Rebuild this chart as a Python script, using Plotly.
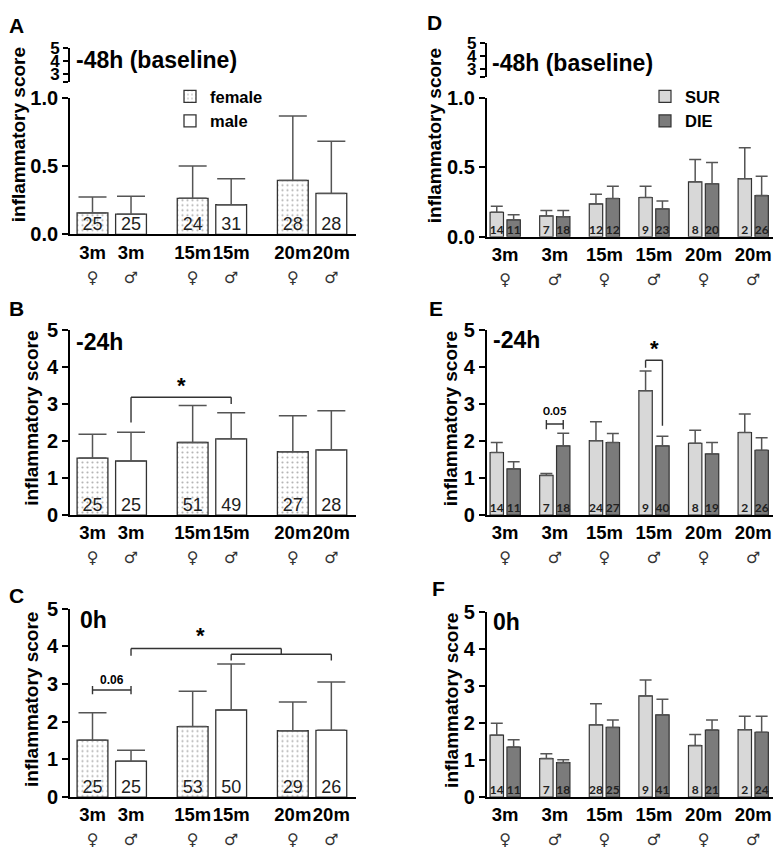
import plotly.graph_objects as go

W, H = 778, 860
FONT = "Liberation Sans, Arial, sans-serif"
NFONT = "Lato, Open Sans, sans-serif"

# ---------------- data ----------------
ages = ["3m", "3m", "15m", "15m", "20m", "20m"]
sexes = ["♀", "♂", "♀", "♂", "♀", "♂"]

# Left panels: female / male per age group (3m, 15m, 20m); mean and upper error (SD)
A_female_mean = [0.157, 0.264, 0.395]
A_female_err = [0.117, 0.236, 0.472]
A_male_mean = [0.148, 0.217, 0.300]
A_male_err = [0.131, 0.190, 0.381]
A_female_n = [25, 24, 28]
A_male_n = [25, 31, 28]

B_female_mean = [1.54, 1.96, 1.71]
B_female_err = [0.64, 1.00, 0.97]
B_male_mean = [1.46, 2.06, 1.76]
B_male_err = [0.78, 0.70, 1.06]
B_female_n = [25, 51, 27]
B_male_n = [25, 49, 28]

C_female_mean = [1.51, 1.87, 1.76]
C_female_err = [0.73, 0.94, 0.76]
C_male_mean = [0.95, 2.31, 1.77]
C_male_err = [0.29, 1.22, 1.28]
C_female_n = [25, 53, 29]
C_male_n = [25, 50, 26]

# Right panels: SUR / DIE per group (3m♀, 3m♂, 15m♀, 15m♂, 20m♀, 20m♂); mean and upper error (SEM)
D_sur_mean = [0.176, 0.150, 0.237, 0.283, 0.396, 0.419]
D_sur_err = [0.044, 0.040, 0.070, 0.082, 0.161, 0.223]
D_die_mean = [0.122, 0.145, 0.276, 0.201, 0.382, 0.297]
D_die_err = [0.037, 0.045, 0.089, 0.057, 0.154, 0.139]
D_sur_n = [14, 7, 12, 9, 8, 2]
D_die_n = [11, 18, 12, 23, 20, 26]

E_sur_mean = [1.69, 1.07, 2.01, 3.36, 1.94, 2.23]
E_sur_err = [0.27, 0.05, 0.51, 0.53, 0.35, 0.50]
E_die_mean = [1.25, 1.87, 1.96, 1.87, 1.65, 1.75]
E_die_err = [0.19, 0.34, 0.24, 0.26, 0.31, 0.34]
E_sur_n = [14, 7, 24, 9, 8, 2]
E_die_n = [11, 18, 27, 40, 19, 26]

F_sur_mean = [1.67, 1.04, 1.95, 2.73, 1.39, 1.82]
F_sur_err = [0.32, 0.13, 0.57, 0.43, 0.30, 0.36]
F_die_mean = [1.35, 0.93, 1.88, 2.22, 1.81, 1.75]
F_die_err = [0.20, 0.08, 0.20, 0.42, 0.27, 0.43]
F_sur_n = [14, 7, 28, 9, 8, 2]
F_die_n = [11, 18, 25, 41, 21, 24]

panel_titles = {"A": "-48h (baseline)", "B": "-24h", "C": "0h",
                "D": "-48h (baseline)", "E": "-24h", "F": "0h"}

# ---------------- layout geometry ----------------
def px(x):
    return x / W

def py(y):
    return 1 - y / H

LEFT_DOM = [px(70), px(356)]
RIGHT_DOM = [px(486.7), px(773.3)]
GROUP_GAP = 2.6
left_f_pos = [g * GROUP_GAP for g in range(3)]
left_m_pos = [g * GROUP_GAP + 1 for g in range(3)]
left_ticks = [p for pair in zip(left_f_pos, left_m_pos) for p in pair]
LEFT_RANGE = [-0.584, 6.84]
OFF = 0.17
right_groups = list(range(6))
right_s_pos = [g - OFF for g in right_groups]
right_d_pos = [g + OFF for g in right_groups]
RIGHT_RANGE = [-0.373, 5.405]

def ticktext_list():
    return ["<b>%s</b><br><span style='font-family:DejaVu Sans;font-size:16px;color:#333'>%s\ufe0e</span>" % (a, s)
            for a, s in zip(ages, sexes)]

fig = go.Figure()

ERR_COL = "#555555"
LINE_COL = "#333333"

def add_left(ax, fm, fe, mm, me, fn, mn, legend=False):
    xa, ya = "x%d" % ax, "y%d" % ax
    fig.add_trace(go.Bar(
        x=left_f_pos, y=fm, width=0.8, xaxis=xa, yaxis=ya,
        name="<b>female</b>", showlegend=legend, legend="legend",
        marker=dict(color="white", line=dict(color=LINE_COL, width=1.3),
                    pattern=dict(shape=".", fgcolor="#666666", bgcolor="white",
                                 size=5, solidity=0.15)),
        error_y=dict(type="data", array=fe, arrayminus=[0] * len(fe), symmetric=False,
                     color=ERR_COL, thickness=1.5, width=14)))
    fig.add_trace(go.Bar(
        x=left_m_pos, y=mm, width=0.8, xaxis=xa, yaxis=ya,
        name="<b>male</b>", showlegend=legend, legend="legend",
        marker=dict(color="white", line=dict(color=LINE_COL, width=1.3)),
        error_y=dict(type="data", array=me, arrayminus=[0] * len(me), symmetric=False,
                     color=ERR_COL, thickness=1.5, width=14)))
    fig.add_trace(go.Scatter(
        x=left_f_pos + left_m_pos, y=[0] * 6, xaxis=xa, yaxis=ya, mode="text",
        text=[str(v) for v in fn + mn], textposition="top center",
        textfont=dict(family=FONT, size=18, color="#222"), showlegend=False,
        hoverinfo="skip"))

def add_right(ax, sm, se, dm, de, sn, dn, legend=False):
    xa, ya = "x%d" % ax, "y%d" % ax
    fig.add_trace(go.Bar(
        x=right_s_pos, y=sm, width=0.27, xaxis=xa, yaxis=ya,
        name="<b>SUR</b>", showlegend=legend, legend="legend2",
        marker=dict(color="#d8d8d8", line=dict(color=LINE_COL, width=1.2)),
        error_y=dict(type="data", array=se, arrayminus=[0] * len(se), symmetric=False,
                     color=ERR_COL, thickness=1.5, width=6)))
    fig.add_trace(go.Bar(
        x=right_d_pos, y=dm, width=0.27, xaxis=xa, yaxis=ya,
        name="<b>DIE</b>", showlegend=legend, legend="legend2",
        marker=dict(color="#7b7b7b", line=dict(color=LINE_COL, width=1.2)),
        error_y=dict(type="data", array=de, arrayminus=[0] * len(de), symmetric=False,
                     color=ERR_COL, thickness=1.5, width=6)))
    fig.add_trace(go.Scatter(
        x=right_s_pos + right_d_pos, y=[0] * 12, xaxis=xa, yaxis=ya, mode="text",
        text=[str(v) for v in sn + dn], textposition="top center",
        textfont=dict(family=NFONT, size=12, color="#222", weight="bold"),
        showlegend=False, hoverinfo="skip"))

add_left(1, A_female_mean, A_female_err, A_male_mean, A_male_err, A_female_n, A_male_n, legend=True)
add_left(2, B_female_mean, B_female_err, B_male_mean, B_male_err, B_female_n, B_male_n)
add_left(3, C_female_mean, C_female_err, C_male_mean, C_male_err, C_female_n, C_male_n)
add_right(4, D_sur_mean, D_sur_err, D_die_mean, D_die_err, D_sur_n, D_die_n, legend=True)
add_right(5, E_sur_mean, E_sur_err, E_die_mean, E_die_err, E_sur_n, E_die_n)
add_right(6, F_sur_mean, F_sur_err, F_die_mean, F_die_err, F_sur_n, F_die_n)

# dummy traces for mini broken-axis sections
for ax in (7, 8):
    fig.add_trace(go.Scatter(x=[None], y=[None], xaxis="x%d" % ax, yaxis="y%d" % ax,
                             showlegend=False, hoverinfo="skip"))

panels = [
    # ax, xdom, ytop, ybot, yrange, left?
    (1, LEFT_DOM, 89, 229.3, [0, 1], True),
    (2, LEFT_DOM, 327.3, 517.3, [0, 5], True),
    (3, LEFT_DOM, 613.3, 806.7, [0, 5], True),
    (4, RIGHT_DOM, 89.3, 231.7, [0, 1], False),
    (5, RIGHT_DOM, 327.3, 517.3, [0, 5], False),
    (6, RIGHT_DOM, 616.7, 806.7, [0, 5], False),
]

lay = {}
for ax, xdom, ytop, ybot, yr, is_left in panels:
    xk = "xaxis" if ax == 1 else "xaxis%d" % ax
    yk = "yaxis" if ax == 1 else "yaxis%d" % ax
    lay[xk] = dict(domain=xdom, anchor="y%d" % ax if ax > 1 else "y",
                   range=LEFT_RANGE if is_left else RIGHT_RANGE,
                   showline=True, linecolor="black", linewidth=1.8, ticks="",
                   showgrid=False, zeroline=False, tickangle=0,
                   tickvals=left_ticks if is_left else right_groups,
                   ticktext=ticktext_list(),
                   tickfont=dict(family=FONT, size=18.5, color="black"))
    if yr[1] == 1:
        tv, tt = [0, 0.5, 1.0], ["0.0", "0.5", "1.0"]
    else:
        tv, tt = [0, 1, 2, 3, 4, 5], ["0", "1", "2", "3", "4", "5"]
    lay[yk] = dict(domain=[py(ybot), py(ytop)], anchor="x%d" % ax if ax > 1 else "x",
                   range=yr, showline=True, linecolor="black", linewidth=1.8,
                   ticks="outside", ticklen=6, tickwidth=1.8, tickcolor="black",
                   showgrid=False, zeroline=False, tickvals=tv, ticktext=tt,
                   tickfont=dict(family=FONT, size=20, color="black", weight="bold"))

# mini axes (broken-axis top section 3-5)
for ax, xdom, ytop, ybot in [(7, LEFT_DOM, 38, 73), (8, RIGHT_DOM, 32.7, 68)]:
    lay["xaxis%d" % ax] = dict(domain=xdom, anchor="y%d" % ax, visible=False, range=[0, 1])
    lay["yaxis%d" % ax] = dict(domain=[py(ybot), py(ytop)], anchor="x%d" % ax,
                               range=[2.4, 5], showline=True, linecolor="black", linewidth=1.6,
                               ticks="outside", ticklen=5, tickwidth=1.6, tickcolor="black",
                               showgrid=False, zeroline=False,
                               tickvals=[2.4, 3, 4, 5], ticktext=["", "3", "4", "5"],
                               tickfont=dict(family=FONT, size=17, color="black", weight="bold"))

annotations = []
# panel letters
for lab, x, y in [("A", 7, 15), ("B", 7, 305), ("C", 7, 600),
                  ("D", 425, 12), ("E", 427, 305), ("F", 430, 593)]:
    annotations.append(dict(text="<b>%s</b>" % lab, x=px(x), y=py(y), xref="paper", yref="paper",
                            xanchor="left", yanchor="middle", showarrow=False,
                            font=dict(family=FONT, size=21, color="black")))
# panel titles
for lab, x, y in [("A", 74, 50), ("B", 74, 340), ("C", 78, 625),
                  ("D", 489.7, 53), ("E", 491, 338), ("F", 491, 627)]:
    annotations.append(dict(text="<b>%s</b>" % panel_titles[lab], x=px(x), y=py(y),
                            xref="paper", yref="paper", xanchor="left", yanchor="middle",
                            showarrow=False, font=dict(family=FONT, size=23, color="black")))
# y axis titles
for x, y in [(18, 127.5), (32, 418.5), (32, 707), (434, 127.5), (450, 419), (452, 708)]:
    annotations.append(dict(text="<b>inflammatory score</b>", x=px(x), y=py(y),
                            xref="paper", yref="paper", xanchor="center", yanchor="middle",
                            textangle=-90, showarrow=False,
                            font=dict(family=FONT, size=19, color="black")))

shapes = []

def seg(ax, x0, y0, x1, y1):
    shapes.append(dict(type="line", xref="x%d" % ax if ax > 1 else "x",
                       yref="y%d" % ax if ax > 1 else "y",
                       x0=x0, y0=y0, x1=x1, y1=y1,
                       line=dict(color="#333333", width=1.4)))

def label(ax, x, y, text, size, yanchor="bottom", family=FONT):
    annotations.append(dict(text="<b>%s</b>" % text, x=x, y=y, xref="x%d" % ax, yref="y%d" % ax,
                            xanchor="center", yanchor=yanchor, showarrow=False,
                            font=dict(family=family, size=size, color="black")))

# Panel B: 3m male vs 15m male
xb0, xb1 = left_m_pos[0], left_m_pos[1]
seg(2, xb0, 2.5, xb0, 3.18)
seg(2, xb0, 3.18, xb1, 3.18)
seg(2, xb1, 3.18, xb1, 3.0)
label(2, (xb0 + xb1) / 2, 3.1, "*", 22)

# Panel C: 0.06 bracket
xc0, xc1 = left_f_pos[0], left_m_pos[0]
seg(3, xc0, 2.84, xc1, 2.84)
seg(3, xc0, 2.73, xc0, 2.95)
seg(3, xc1, 2.73, xc1, 2.95)
label(3, (xc0 + xc1) / 2, 2.86, "0.06", 12)
# Panel C: 3m male vs (15m male, 20m male)
xm = (left_m_pos[1] + left_m_pos[2]) / 2
seg(3, left_m_pos[0], 3.75, left_m_pos[0], 3.94)
seg(3, left_m_pos[0], 3.94, xm, 3.94)
seg(3, xm, 3.94, xm, 3.79)
seg(3, left_m_pos[1], 3.79, left_m_pos[2], 3.79)
seg(3, left_m_pos[1], 3.79, left_m_pos[1], 3.62)
seg(3, left_m_pos[2], 3.79, left_m_pos[2], 3.62)
label(3, (left_m_pos[0] + xm) / 2 - 0.15, 3.9, "*", 22)

# Panel E: 0.05 bracket (3m male SUR vs DIE)
xe0, xe1 = right_s_pos[1], right_d_pos[1]
seg(5, xe0, 2.46, xe1, 2.46)
seg(5, xe0, 2.32, xe0, 2.57)
seg(5, xe1, 2.32, xe1, 2.57)
label(5, (xe0 + xe1) / 2, 2.58, "0.05", 12, family=NFONT)
# Panel E: 15m male SUR vs DIE
xs0, xs1 = right_s_pos[3], right_d_pos[3]
seg(5, xs0, 3.98, xs0, 4.18)
seg(5, xs0, 4.18, xs1, 4.18)
seg(5, xs1, 4.18, xs1, 2.41)
label(5, (xs0 + xs1) / 2, 4.1, "*", 22)

fig.update_layout(
    width=W, height=H,
    margin=dict(l=0, r=0, t=0, b=0),
    paper_bgcolor="white", plot_bgcolor="white",
    barmode="overlay",
    font=dict(family=FONT, color="black"),
    annotations=annotations, shapes=shapes,
    legend=dict(x=px(170), y=py(70), xanchor="left", yanchor="top",
                bgcolor="rgba(0,0,0,0)", font=dict(family=FONT, size=16.5, color="black"),
                tracegroupgap=0, itemclick=False),
    legend2=dict(x=px(645), y=py(70), xanchor="left", yanchor="top",
                 bgcolor="rgba(0,0,0,0)", font=dict(family=FONT, size=16.5, color="black"),
                 tracegroupgap=0, itemclick=False),
    **lay,
)

fig.write_html("out.html", config={"displayModeBar": False},
               post_script="document.body.style.margin='0px';document.body.style.overflow='hidden';")
